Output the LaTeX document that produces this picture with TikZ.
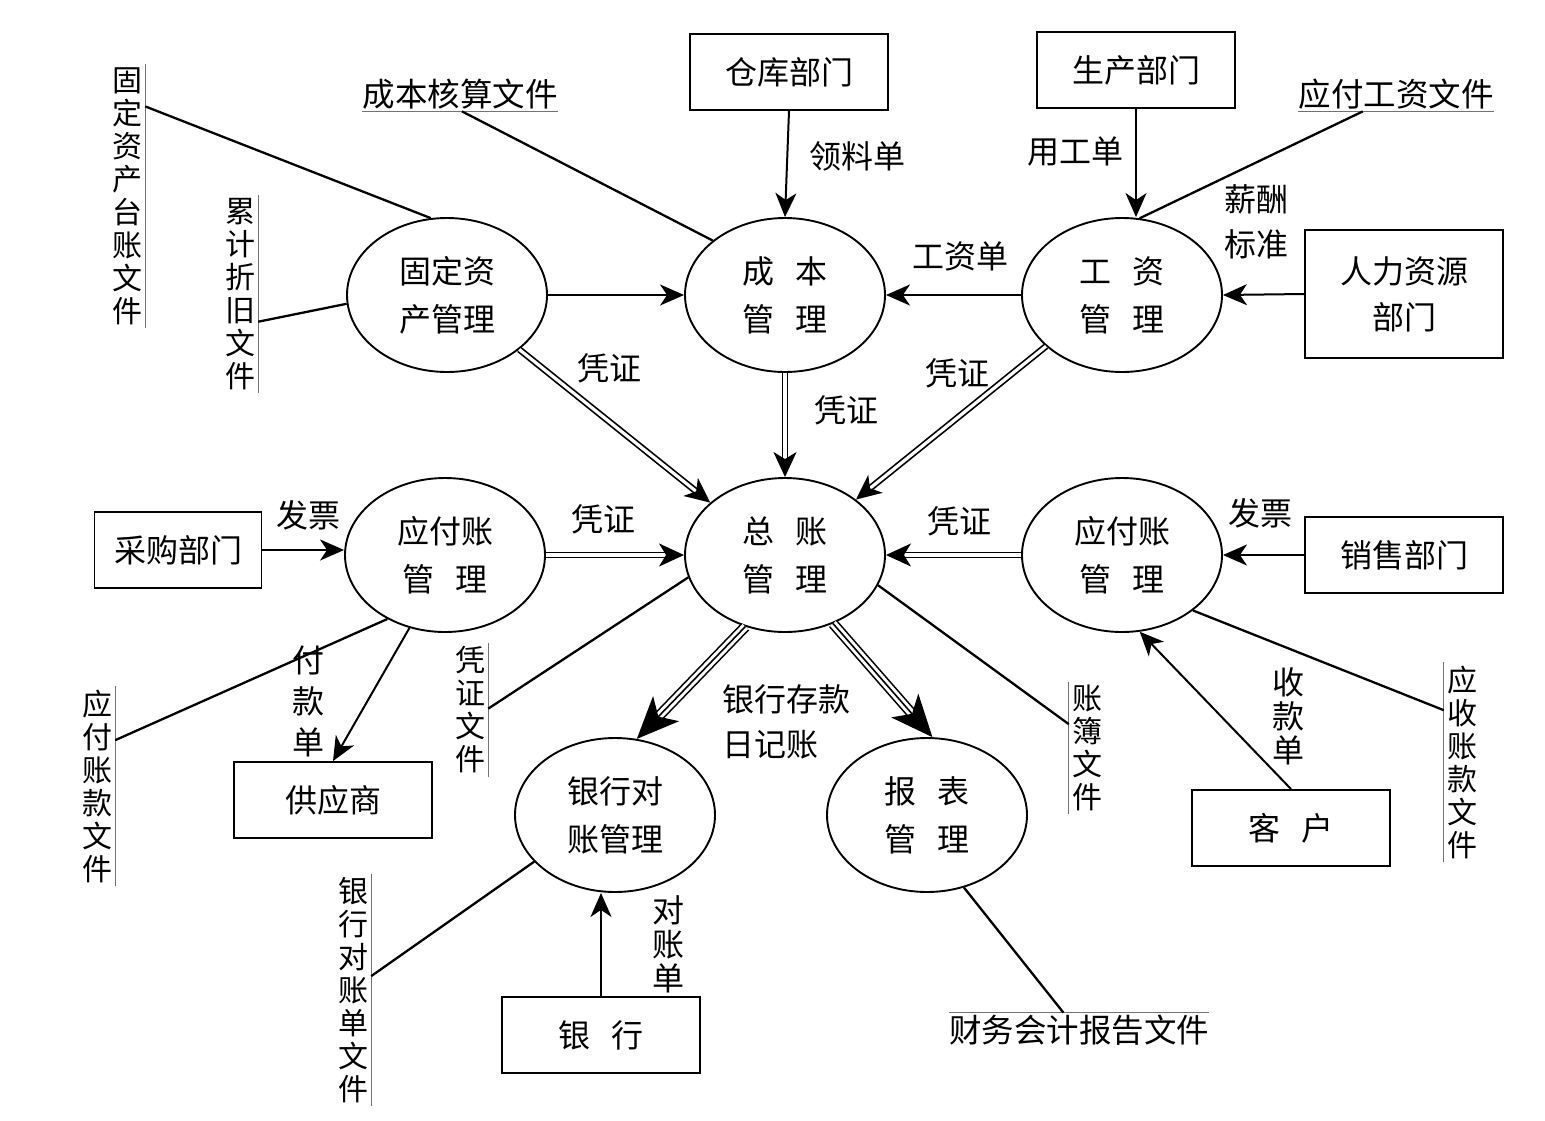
\documentclass[tikz,border=0pt]{standalone}
\usepackage{fontspec}
\newfontfamily\cjk{Noto Sans CJK SC}
\usetikzlibrary{shapes.geometric, arrows.meta, calc}

\tikzset{
  proc/.style={ellipse, draw, line width=1.9pt, minimum width=200pt, minimum height=154pt,
    inner sep=0pt, align=center, font=\cjk\fontsize{32}{48}\selectfont},
  ent/.style={rectangle, draw, line width=1.9pt, minimum width=198pt, minimum height=76pt,
    align=center, font=\cjk\fontsize{32}{46}\selectfont},
  lab/.style={inner sep=0pt, align=center, font=\cjk\fontsize{32}{40}\selectfont},
  vstore/.style={inner xsep=3pt, inner ysep=3pt, align=center, font=\cjk\fontsize{30}{33}\selectfont},
  hstore/.style={inner xsep=0pt, inner ysep=2pt, font=\cjk\fontsize{32.5}{40}\selectfont},
  sline/.style={draw=black!55, line width=1.1pt},
  link/.style={line width=2.3pt},
  flow/.style={line width=2pt, -{Stealth[length=24pt,width=21pt,inset=7pt]}},
  dflow/.style={line width=1.7pt, double, double distance=3.2pt, -{Stealth[length=25pt,width=23pt,inset=7pt]}},
  tflow/.style={line width=1.6pt, double, double distance=7.5pt, -{Stealth[length=42pt,width=36pt,inset=11pt]}},
  tmid/.style={line width=1.6pt, shorten >=10pt}
}

\begin{document}
\begin{tikzpicture}[x=1pt, y=-1pt]
\useasboundingbox (0,0) rectangle (1545,1120);

% processes
\node[proc] (gdzc) at (447,295) {固定资\\产管理};
\node[proc] (cb) at (785,295) {成\hspace{22pt}本\\管\hspace{22pt}理};
\node[proc] (gz) at (1122,295) {工\hspace{22pt}资\\管\hspace{22pt}理};
\node[proc] (yfz) at (445,555) {应付账\\管\hspace{22pt}理};
\node[proc] (zz) at (785,555) {总\hspace{22pt}账\\管\hspace{22pt}理};
\node[proc] (ysz) at (1122,555) {应付账\\管\hspace{22pt}理};
\node[proc] (yhdz) at (615,815) {银行对\\账管理};
\node[proc] (bb) at (927,815) {报\hspace{22pt}表\\管\hspace{22pt}理};

% external entities
\node[ent] (ck) at (789,72) {仓库部门};
\node[ent] (sc) at (1136,70) {生产部门};
\node[ent, minimum height=128pt] (rl) at (1404,294) {人力资源\\部门};
\node[ent, minimum width=167pt] (cg) at (178,550) {采购部门};
\node[ent] (xs) at (1404,555) {销售部门};
\node[ent] (gys) at (333,800) {供应商};
\node[ent] (kh) at (1291,828) {客\hspace{22pt}户};
\node[ent] (yh) at (601,1035) {银\hspace{22pt}行};

% data stores
\node[vstore] (gdtz) at (127,196) {固\\定\\资\\产\\台\\账\\文\\件};
\draw[sline] (gdtz.north east) -- (gdtz.south east);
\coordinate (gdtzp) at ($(gdtz.north east)!0.16!(gdtz.south east)$);
\node[vstore] (ljzj) at (240,294) {累\\计\\折\\旧\\文\\件};
\draw[sline] (ljzj.north east) -- (ljzj.south east);
\coordinate (ljzjp) at ($(ljzj.north east)!0.64!(ljzj.south east)$);
\node[hstore] (cbhs) at (460,94) {成本核算文件};
\draw[sline] (cbhs.south west) -- (cbhs.south east);
\coordinate (cbhsp) at ($(cbhs.south west)!0.51!(cbhs.south east)$);
\node[hstore] (yfgz) at (1396,94) {应付工资文件};
\draw[sline] (yfgz.south west) -- (yfgz.south east);
\coordinate (yfgzp) at ($(yfgz.south west)!0.33!(yfgz.south east)$);
\node[vstore] (yfzk) at (97,786) {应\\付\\账\\款\\文\\件};
\draw[sline] (yfzk.north east) -- (yfzk.south east);
\coordinate (yfzkp) at ($(yfzk.north east)!0.27!(yfzk.south east)$);
\node[vstore] (pzwj) at (470,710) {凭\\证\\文\\件};
\draw[sline] (pzwj.north east) -- (pzwj.south east);
\coordinate (pzwjp) at ($(pzwj.north east)!0.49!(pzwj.south east)$);
\node[vstore] (zbwj) at (1087,748) {账\\簿\\文\\件};
\draw[sline] (zbwj.north west) -- (zbwj.south west);
\coordinate (zbwjp) at ($(zbwj.north west)!0.32!(zbwj.south west)$);
\node[vstore] (yszk) at (1462,762) {应\\收\\账\\款\\文\\件};
\draw[sline] (yszk.north west) -- (yszk.south west);
\coordinate (yszkp) at ($(yszk.north west)!0.24!(yszk.south west)$);
\node[vstore] (yhdzd) at (353,990) {银\\行\\对\\账\\单\\文\\件};
\draw[sline] (yhdzd.north east) -- (yhdzd.south east);
\coordinate (yhdzdp) at ($(yhdzd.north east)!0.44!(yhdzd.south east)$);
\node[hstore] (cwbg) at (1079,1030) {财务会计报告文件};
\draw[sline] (cwbg.north west) -- (cwbg.north east);
\coordinate (cwbgp) at ($(cwbg.north west)!0.44!(cwbg.north east)$);

% store links
\draw[link] (gdzc.102) -- (gdtzp);
\draw[link] (gdzc.185) -- (ljzjp);
\draw[link] (cb.143) -- (cbhsp);
\draw[link] (gz.77) -- (yfgzp);
\draw[link] (yfz.228) -- (yfzkp);
\draw[link] (zz.193) -- (pzwjp);
\draw[link] (zz.342) -- (zbwjp);
\draw[link] (ysz.322) -- (yszkp);
\draw[link] (yhdz.210) -- (yhdzdp);
\draw[link] (bb.297) -- (cwbgp);

% single flows
\draw[flow] (ck.south) -- (cb.north);
\draw[flow] (sc.south) -- (sc.south |- gz.north);
\draw[flow] (rl.west) -- (gz.east);
\draw[flow] (gz.west) -- (cb.east);
\draw[flow] (gdzc.east) -- (cb.west);
\draw[flow] (cg.east) -- (cg.east -| yfz.west);
\draw[flow] (xs.west) -- (ysz.east);
\draw[flow] (yfz.244) -- (gys.north);
\draw[flow] (kh.north) -- (ysz.283);
\draw[flow] (yh.north) -- (yh.north |- yhdz.south);

% vouchers
\draw[dflow] (gdzc.323) -- (zz.145);
\draw[dflow] (cb.south) -- (zz.north);
\draw[dflow] (gz.214) -- (zz.38);
\draw[dflow] (yfz.east) -- (zz.west);
\draw[dflow] (ysz.west) -- (zz.east);

% journal flows
\draw[tflow] (zz.241) -- (yhdz.74);
\draw[tmid] (zz.241) -- (yhdz.74);
\draw[tflow] (zz.305) -- (bb.86);
\draw[tmid] (zz.305) -- (bb.86);

% labels
\node[lab] (lld) at (857,156) {领料单};
\node[lab] (ygd) at (1075,151) {用工单};
\node[lab, font=\cjk\fontsize{32}{45}\selectfont] (xcbz) at (1256,222) {薪酬\\标准};
\node[lab] (gzd) at (960,256) {工资单};
\node[lab] (pz1) at (609,368) {凭证};
\node[lab] (pz2) at (846,410) {凭证};
\node[lab] (pz3) at (957,373) {凭证};
\node[lab] (pz4) at (603,519) {凭证};
\node[lab] (pz5) at (959,521) {凭证};
\node[lab] (fp1) at (308,515) {发票};
\node[lab] (fp2) at (1260,513) {发票};
\node[lab, font=\cjk\fontsize{32}{41}\selectfont] (fkd) at (308,701) {付\\款\\单};
\node[lab, font=\cjk\fontsize{32}{34}\selectfont] (skd) at (1288,716) {收\\款\\单};
\node[lab, font=\cjk\fontsize{32}{34}\selectfont] (dzd) at (668,944) {对\\账\\单};
\node[lab, align=left, anchor=west, font=\cjk\fontsize{32}{45}\selectfont] (rjz) at (722,722) {银行存款\\日记账};
\end{tikzpicture}
\end{document}
